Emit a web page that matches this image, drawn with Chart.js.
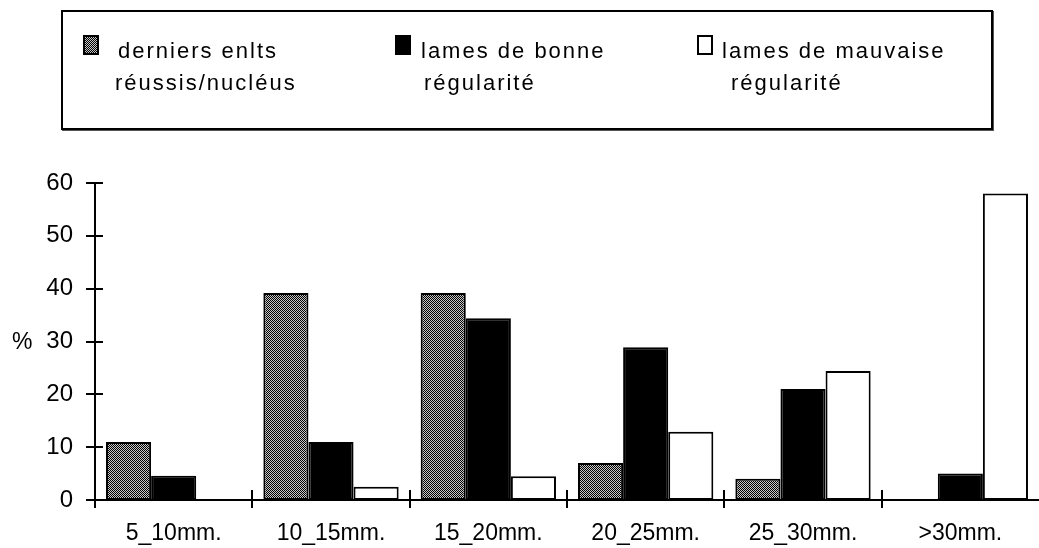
<!DOCTYPE html>
<html lang="fr">
<head>
<meta charset="utf-8">
<title>Longueur des lames</title>
<script src="https://cdn.jsdelivr.net/npm/chart.js@4.4.1/dist/chart.umd.min.js"></script>
<style>
  html, body { margin: 0; padding: 0; background: #fff; }
  body { width: 1039px; height: 548px; position: relative; overflow: hidden; font-family: "Liberation Sans", Arial, sans-serif; color: #000; }
  #chart { position: absolute; left: 0; top: 0; }
  /* Légende encadrée */
  .legend-box { position: absolute; left: 61px; top: 10px; width: 928px; height: 116px; border: 2px solid #000; box-shadow: 1px 1px 0 #555; background: #fff; }
  .legend-item { position: absolute; top: 23px; font-size: 22px; line-height: 32px; letter-spacing: 2px; white-space: nowrap; }
  .swatch { position: absolute; top: 23px; width: 16px; height: 20px; box-sizing: border-box; border: 2px solid #000; }
  .swatch.dots { background: repeating-conic-gradient(#000 0 25%, #c8c8c8 0 50%) 0 0 / 2px 2px; }
  .swatch.solid { background: #000; }
  .swatch.blank { background: #fff; }
</style>
</head>
<body>
<canvas id="chart" width="1039" height="548"></canvas>
<div class="legend-box" id="legend"></div>

<script>
// Données
var categories = ['5_10mm.', '10_15mm.', '15_20mm.', '20_25mm.', '25_30mm.', '>30mm.'];
var derniers = [11, 39.2, 39.2, 7, 4, 0];
var bonne = [4.6, 11, 34.4, 28.9, 21, 5];
var mauvaise = [0, 2.5, 4.5, 12.9, 24.4, 58];
var yTicks = [0, 10, 20, 30, 40, 50, 60];
var legendLabels = [
  ['derniers enlts', 'réussis/nucléus'],
  ['lames de bonne', 'régularité'],
  ['lames de mauvaise', 'régularité']
];

// Trame grise (damier) pour la première série
function makeDots() {
  var c = document.createElement('canvas');
  c.width = 2; c.height = 2;
  var g = c.getContext('2d');
  g.fillStyle = '#c8c8c8'; g.fillRect(0, 0, 2, 2);
  g.fillStyle = '#000'; g.fillRect(0, 0, 1, 1); g.fillRect(1, 1, 1, 1);
  return g.createPattern(c, 'repeat');
}

// Légende HTML
function buildLegend() {
  var box = document.getElementById('legend');
  var swatchLeft = [20, 332, 634];
  var textLeft = [55, 358, 659];
  var secondIndent = [-3, 3, 9];
  var kinds = ['dots', 'solid', 'blank'];
  legendLabels.forEach(function (lines, i) {
    var sw = document.createElement('div');
    sw.className = 'swatch ' + kinds[i];
    sw.style.left = swatchLeft[i] + 'px';
    box.appendChild(sw);
    var item = document.createElement('div');
    item.className = 'legend-item';
    item.style.left = textLeft[i] + 'px';
    lines.forEach(function (txt, j) {
      var line = document.createElement('div');
      line.textContent = txt;
      if (j > 0) line.style.marginLeft = secondIndent[i] + 'px';
      item.appendChild(line);
    });
    box.appendChild(item);
  });
}

// Graduations qui traversent les axes + libellé "%"
var axisMarks = {
  id: 'axisMarks',
  afterDraw: function (chart) {
    var ctx = chart.ctx;
    var xs = chart.scales.x, ys = chart.scales.y;
    var area = chart.chartArea;
    ctx.save();
    ctx.strokeStyle = '#000';
    ctx.lineWidth = 2;
    ctx.beginPath();
    ys.ticks.forEach(function (t) {
      var y = Math.round(ys.getPixelForValue(t.value));
      ctx.moveTo(area.left - 9, y);
      ctx.lineTo(area.left + 8, y);
    });
    var half = (xs.getPixelForValue(1) - xs.getPixelForValue(0)) / 2;
    categories.forEach(function (c, i) {
      var x = Math.round(xs.getPixelForValue(i) - half);
      ctx.moveTo(x, area.bottom - 10);
      ctx.lineTo(x, area.bottom + 8);
    });
    ctx.stroke();
    ctx.fillStyle = '#000';
    ctx.font = '23px "Liberation Sans", Arial, sans-serif';
    ctx.textAlign = 'left';
    ctx.textBaseline = 'middle';
    ctx.fillText('%', 12, ys.getPixelForValue(30) + 1);
    ctx.restore();
  }
};

document.addEventListener('DOMContentLoaded', function () {
  buildLegend();
  var dots = makeDots();
  var barStyle = { borderColor: '#000', borderWidth: 2, borderSkipped: false, categoryPercentage: 0.86, barPercentage: 1 };

  new Chart(document.getElementById('chart'), {
    type: 'bar',
    data: {
      labels: categories,
      datasets: [
        Object.assign({ label: legendLabels[0].join(' '), data: derniers, backgroundColor: dots }, barStyle),
        Object.assign({ label: legendLabels[1].join(' '), data: bonne, backgroundColor: '#000' }, barStyle),
        Object.assign({ label: legendLabels[2].join(' '), data: mauvaise, backgroundColor: '#fff' }, barStyle)
      ]
    },
    options: {
      responsive: false,
      animation: false,
      devicePixelRatio: 1,
      layout: { padding: { top: 183, left: 45, right: 0, bottom: 0 } },
      plugins: { legend: { display: false }, tooltip: { enabled: false } },
      scales: {
        x: {
          offset: true,
          afterFit: function (scale) { scale.height = 48; },
          grid: { display: false, drawTicks: false, tickLength: 0 },
          border: { display: true, color: '#000', width: 2 },
          ticks: { color: '#000', padding: 20, maxRotation: 0, font: { family: '"Liberation Sans", Arial, sans-serif', size: 23 } }
        },
        y: {
          min: 0,
          max: 60,
          afterFit: function (scale) { scale.width = 50; },
          afterBuildTicks: function (scale) {
            scale.ticks = yTicks.map(function (v) { return { value: v }; });
          },
          grid: { display: false, drawTicks: false, tickLength: 0 },
          border: { display: true, color: '#000', width: 2 },
          ticks: { color: '#000', padding: 22, font: { family: '"Liberation Sans", Arial, sans-serif', size: 24 } }
        }
      }
    },
    plugins: [axisMarks]
  });
});
</script>
</body>
</html>
